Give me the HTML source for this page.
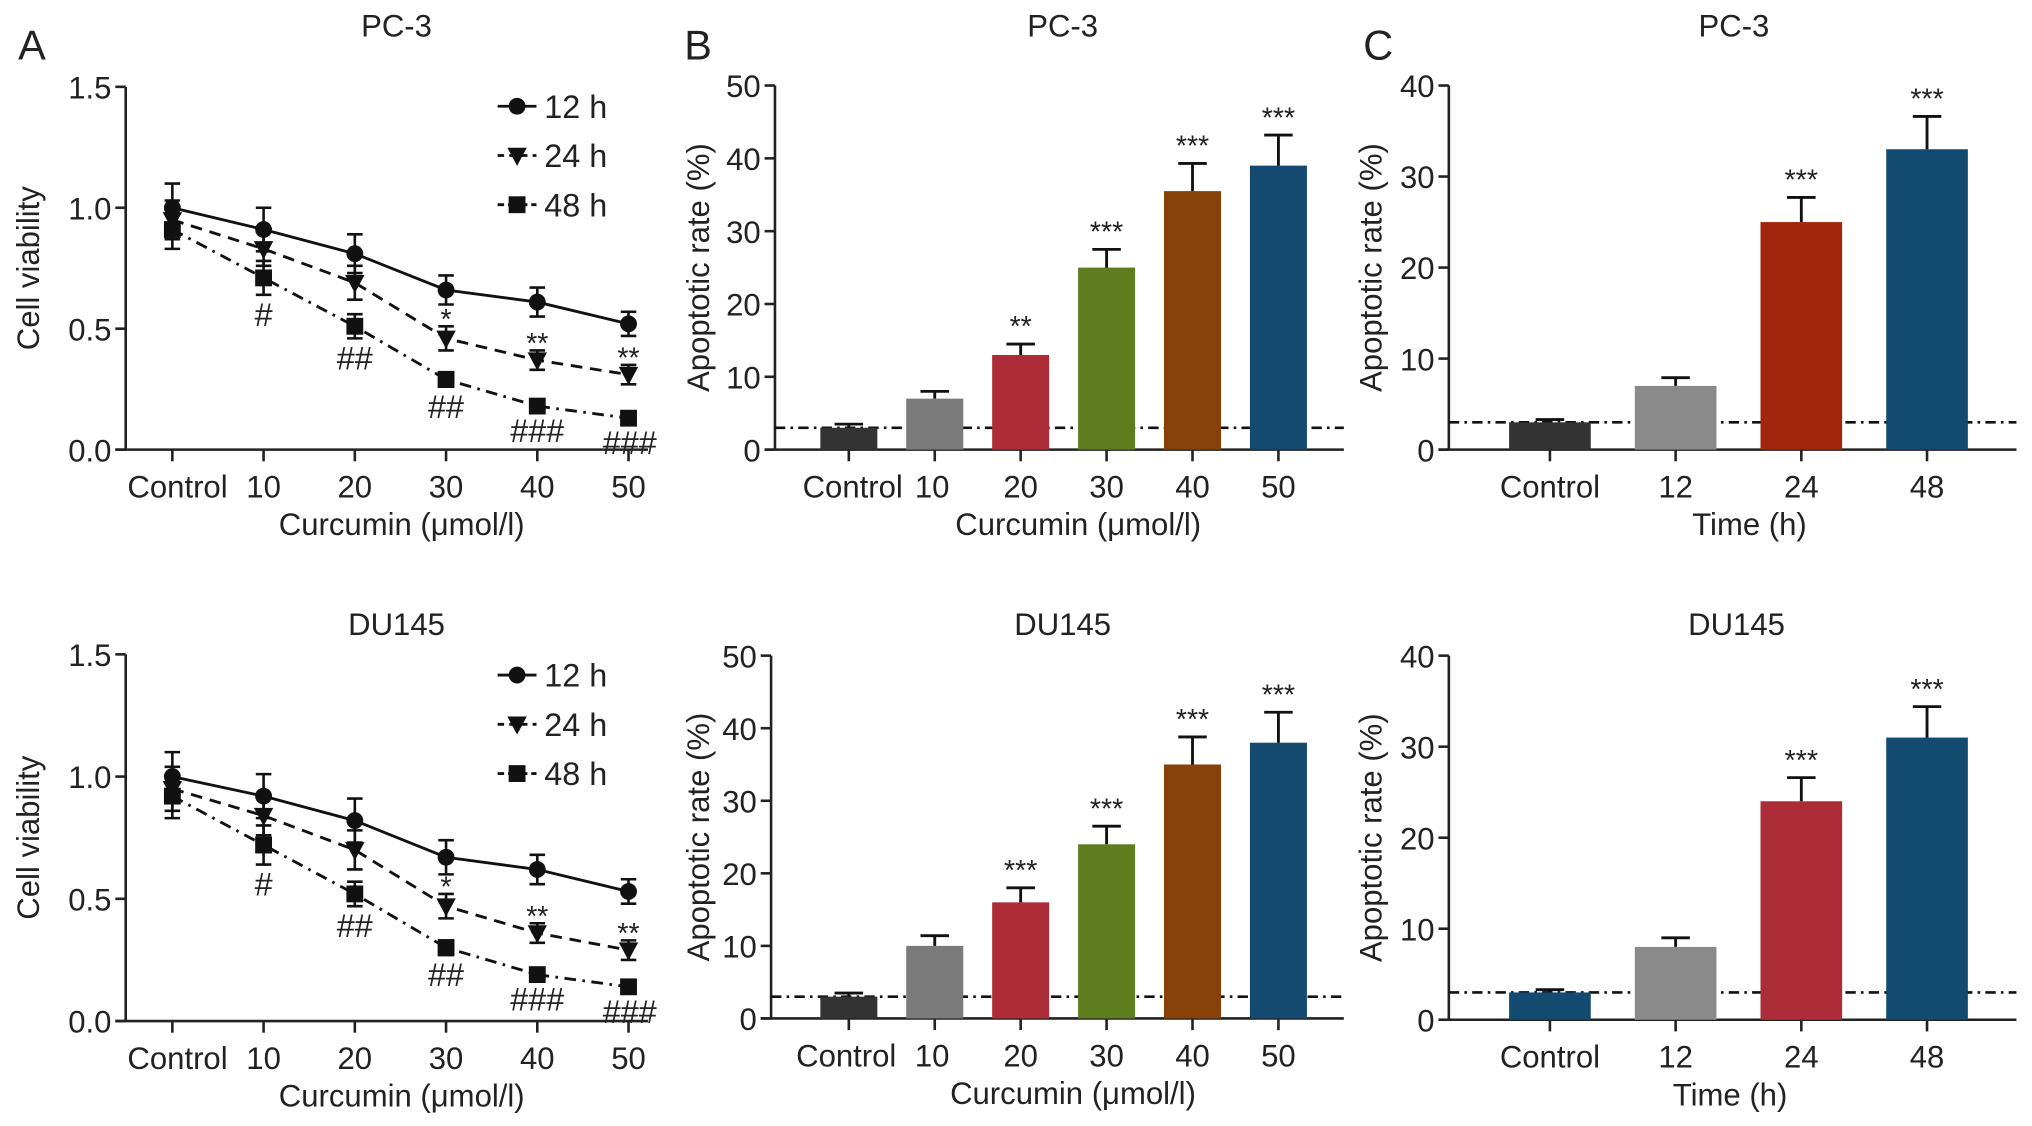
<!DOCTYPE html>
<html><head><meta charset="utf-8"><style>
html,body{margin:0;padding:0;background:#fff;}
svg{display:block;}
text{font-family:"Liberation Sans",sans-serif;fill:#222;}
</style></head><body>
<svg id="fig" width="2032" height="1126" viewBox="0 0 1568 869" preserveAspectRatio="none" xmlns="http://www.w3.org/2000/svg">
<text x="14" y="46" font-size="32">A</text>
<text x="528" y="46" font-size="32">B</text>
<text x="1052" y="46" font-size="32">C</text>
</svg>
<script>
// ---------- data ----------
const doseCats = ["Control","10","20","30","40","50"];
const timeCats = ["Control","12","24","48"];
const viabTicks = [0.0,0.5,1.0,1.5];
const apop50Ticks = [0,10,20,30,40,50];
const apop40Ticks = [0,10,20,30,40];
// A top (PC-3)
const pc3_12 = [1.00,0.91,0.81,0.66,0.61,0.52];
const pc3_12err = [0.10,0.09,0.08,0.06,0.06,0.05];
const pc3_24 = [0.95,0.83,0.69,0.46,0.37,0.31];
const pc3_24err = [0.08,0.07,0.07,0.05,0.04,0.04];
const pc3_48 = [0.91,0.71,0.51,0.29,0.18,0.13];
const pc3_48err = [0.08,0.07,0.05,0.03,0.02,0.02];
// A bottom (DU145)
const du_12 = [1.00,0.92,0.82,0.67,0.62,0.53];
const du_12err = [0.10,0.09,0.09,0.07,0.06,0.05];
const du_24 = [0.95,0.84,0.70,0.47,0.36,0.29];
const du_24err = [0.09,0.08,0.08,0.05,0.04,0.04];
const du_48 = [0.92,0.72,0.52,0.30,0.19,0.14];
const du_48err = [0.09,0.08,0.05,0.03,0.02,0.02];
const starLabels = ["","","","*","**","**"];
const hashLabels = ["","#","##","##","###","###"];
// B
const bPc3 = [3,7,13,25,35.5,39];
const bPc3err = [0.5,1,1.5,2.5,3.8,4.2];
const bPc3sig = ["","","**","***","***","***"];
const bDu = [3,10,16,24,35,38];
const bDuerr = [0.5,1.4,2,2.5,3.8,4.2];
const bDusig = ["","","***","***","***","***"];
// C
const cPc3 = [3,7,25,33];
const cPc3err = [0.3,0.9,2.7,3.6];
const cPc3sig = ["","","***","***"];
const cDu = [3,8,24,31];
const cDuerr = [0.3,1,2.6,3.4];
const cDusig = ["","","***","***"];
const baseline = 3;

const svg = document.getElementById('fig');
const NS = "http://www.w3.org/2000/svg";
function mk(tag, attrs, txt){
  const e = document.createElementNS(NS, tag);
  for (const k in attrs) e.setAttribute(k, attrs[k]);
  if (txt !== undefined) e.textContent = txt;
  svg.appendChild(e);
  return e;
}
function axes(cfg){
  const ys = v => cfg.y0 - v/cfg.vmax*(cfg.y0-cfg.yTop);
  let e;
  e = mk('line',{x1:cfg.x0,y1:cfg.yTop,x2:cfg.x0,y2:cfg.y0,stroke:'#222','stroke-width':2});
  
  
  e = mk('line',{x1:cfg.x0-8,y1:cfg.y0,x2:cfg.x1,y2:cfg.y0,stroke:'#222','stroke-width':2});
  
  
  cfg.ticks.forEach(t=>{
    const y = ys(t);
    e = mk('line',{x1:cfg.x0-8,y1:y,x2:cfg.x0,y2:y,stroke:'#222','stroke-width':2});
    
    
    e = mk('text',{x:cfg.x0-11,y:y+9,'font-size':24,'text-anchor':'end'}, cfg.fmt(t));
    
    
  });
  cfg.cats.forEach((c,i)=>{
    const x = cfg.catX(i);
    e = mk('line',{x1:x,y1:cfg.y0,x2:x,y2:cfg.y0+9,stroke:'#222','stroke-width':2});
    
    
    e = mk('text',{x:x+(cfg.lblShift?cfg.lblShift[i]:0),y:cfg.y0+37,'font-size':24,'text-anchor':'middle'}, c);
    
    
  });
  e = mk('text',{x:cfg.titleX,y:cfg.titleY,'font-size':24,'text-anchor':'middle'}, cfg.title);
  
  
  const ymid = (cfg.y0+cfg.yTop)/2;
  e = mk('text',{x:0,y:0,'font-size':24,'text-anchor':'middle',transform:`translate(${cfg.ylx},${ymid}) rotate(-90)`}, cfg.ylabel);
  
  
  e = mk('text',{x:cfg.xlabelX,y:cfg.y0+66,'font-size':24,'text-anchor':'middle'}, cfg.xlabel);
  
  
  return ys;
}
function marker(type,x,y,name){
  let e;
  if(type==='circle') e = mk('circle',{cx:x,cy:y,r:6.5,fill:'#111'});
  else if(type==='tri') e = mk('polygon',{points:`${x-7.5},${y-6} ${x+7.5},${y-6} ${x},${y+8}`,fill:'#111'});
  else e = mk('rect',{x:x-6.5,y:y-6.5,width:13,height:13,fill:'#111'});
  
  
}
function linePanel(name,title,titleY,x0,y0,yTop,s12,e12,s24,e24,s48,e48,legY){
  const catX = i => 133 + i*70.4;
  const ys = axes({name,x0,x1:500,y0,yTop,vmax:1.5,ticks:viabTicks,fmt:t=>t.toFixed(1),cats:doseCats,catX,title,titleX:306,titleY,ylabel:'Cell viability',ylx:30,xlabel:'Curcumin (\u03bcmol/l)',xlabelX:310,lblShift:[4,0,0,0,0,0]});
  const series = [[s12,e12,'none','circle','12 h'],[s24,e24,'9,6','tri','24 h'],[s48,e48,'9,5,2,5','square','48 h']];
  series.forEach((sr,si)=>{
    const [v,er,dash,mt,lab] = sr;
    const pts = v.map((d,i)=>`${catX(i)},${ys(d)}`).join(' ');
    let e = mk('polyline',{points:pts,fill:'none',stroke:'#111','stroke-width':2.2,'stroke-dasharray':dash});
    
    
    v.forEach((d,i)=>{
      const x = catX(i), yt = ys(d+er[i]), yb = ys(d-er[i]);
      e = mk('path',{d:`M${x},${yt}V${yb}M${x-6},${yt}H${x+6}M${x-6},${yb}H${x+6}`,stroke:'#111','stroke-width':2,fill:'none'});
      
      
      marker(mt,x,ys(d),name+'-point-'+lab.replace(' ',''));
    });
    const ly = legY + si*38;
    e = mk('line',{x1:384,y1:ly,x2:414,y2:ly,stroke:'#111','stroke-width':2.2,'stroke-dasharray':dash==='none'?'none':(si===1?'5,4':'5,3,2,3')});
    
    
    marker(mt,399,ly,'legend-marker-'+lab.replace(' ',''));
    e = mk('text',{x:420,y:ly+9,'font-size':25}, lab);
    
    
  });
  starLabels.forEach((s,i)=>{
    if(!s) return;
    const e = mk('text',{x:catX(i),y:ys(s24[i]+e24[i])+2,'font-size':22,'text-anchor':'middle'}, s);
    
    
  });
  hashLabels.forEach((s,i)=>{
    if(!s) return;
    const e = mk('text',{x:catX(i)+(i===5?1:0),y:ys(s48[i]-e48[i])+24,'font-size':25,'text-anchor':'middle','font-family':'Liberation Serif, serif'}, s);
    
    
  });
}
function barPanel(name,title,cfg,vals,errs,sig,colors){
  const ys = axes(Object.assign({name,title},cfg));
  let e = mk('line',{x1:cfg.x0,y1:ys(baseline),x2:cfg.x1,y2:ys(baseline),stroke:'#111','stroke-width':2,'stroke-dasharray':'8,4,2,4'});
  
  
  vals.forEach((v,i)=>{
    const x = cfg.catX(i), w = cfg.bw;
    e = mk('rect',{x:x-w/2,y:ys(v),width:w,height:ys(0)-ys(v),fill:colors[i]});
    
    
    const yt = ys(v+errs[i]);
    e = mk('path',{d:`M${x},${ys(v)}V${yt}M${x-11},${yt}H${x+11}`,stroke:'#111','stroke-width':2.2,fill:'none'});
    
    
    if(sig[i]){
      e = mk('text',{x:x,y:yt-6,'font-size':22,'text-anchor':'middle'}, sig[i]);
      
      
    }
  });
}
linePanel('a-pc3','PC-3',28,97,347,67,pc3_12,pc3_12err,pc3_24,pc3_24err,pc3_48,pc3_48err,82);
linePanel('a-du145','DU145',490,97,788,505,du_12,du_12err,du_24,du_24err,du_48,du_48err,521);

const bX = i => 655 + i*66.3;
const bColors = ['#333333','#7a7a7a','#ac2c37','#5e7d1f','#874207','#144a70'];
barPanel('b-pc3','PC-3',{x0:598,x1:1037,y0:347,yTop:66,vmax:50,ticks:apop50Ticks,fmt:t=>String(t),cats:doseCats,catX:bX,bw:44,titleX:820,titleY:28,ylx:547,xlabel:'Curcumin (\u03bcmol/l)',xlabelX:832,ylabel:'Apoptotic rate (%)',lblShift:[3,-2,0,0,0,0]},bPc3,bPc3err,bPc3sig,bColors);
barPanel('b-du145','DU145',{x0:595,x1:1037,y0:786,yTop:506,vmax:50,ticks:apop50Ticks,fmt:t=>String(t),cats:doseCats,catX:bX,bw:44,titleX:820,titleY:490,ylx:547,xlabel:'Curcumin (\u03bcmol/l)',xlabelX:828,ylabel:'Apoptotic rate (%)',lblShift:[-2,-2,0,0,0,0]},bDu,bDuerr,bDusig,bColors);

const cX = i => 1196 + i*97;
barPanel('c-pc3','PC-3',{x0:1118,x1:1556,y0:347,yTop:66,vmax:40,ticks:apop40Ticks,fmt:t=>String(t),cats:timeCats,catX:cX,bw:63,titleX:1338,titleY:28,ylx:1066,xlabel:'Time (h)',xlabelX:1350,ylabel:'Apoptotic rate (%)'},cPc3,cPc3err,cPc3sig,['#333333','#8a8a8a','#a2260d','#124a70']);
barPanel('c-du145','DU145',{x0:1118,x1:1556,y0:787,yTop:506,vmax:40,ticks:apop40Ticks,fmt:t=>String(t),cats:timeCats,catX:cX,bw:63,titleX:1340,titleY:490,ylx:1066,xlabel:'Time (h)',xlabelX:1335,ylabel:'Apoptotic rate (%)'},cDu,cDuerr,cDusig,['#124a70','#8a8a8a','#ac2c37','#124a70']);
</script>
</body></html>
